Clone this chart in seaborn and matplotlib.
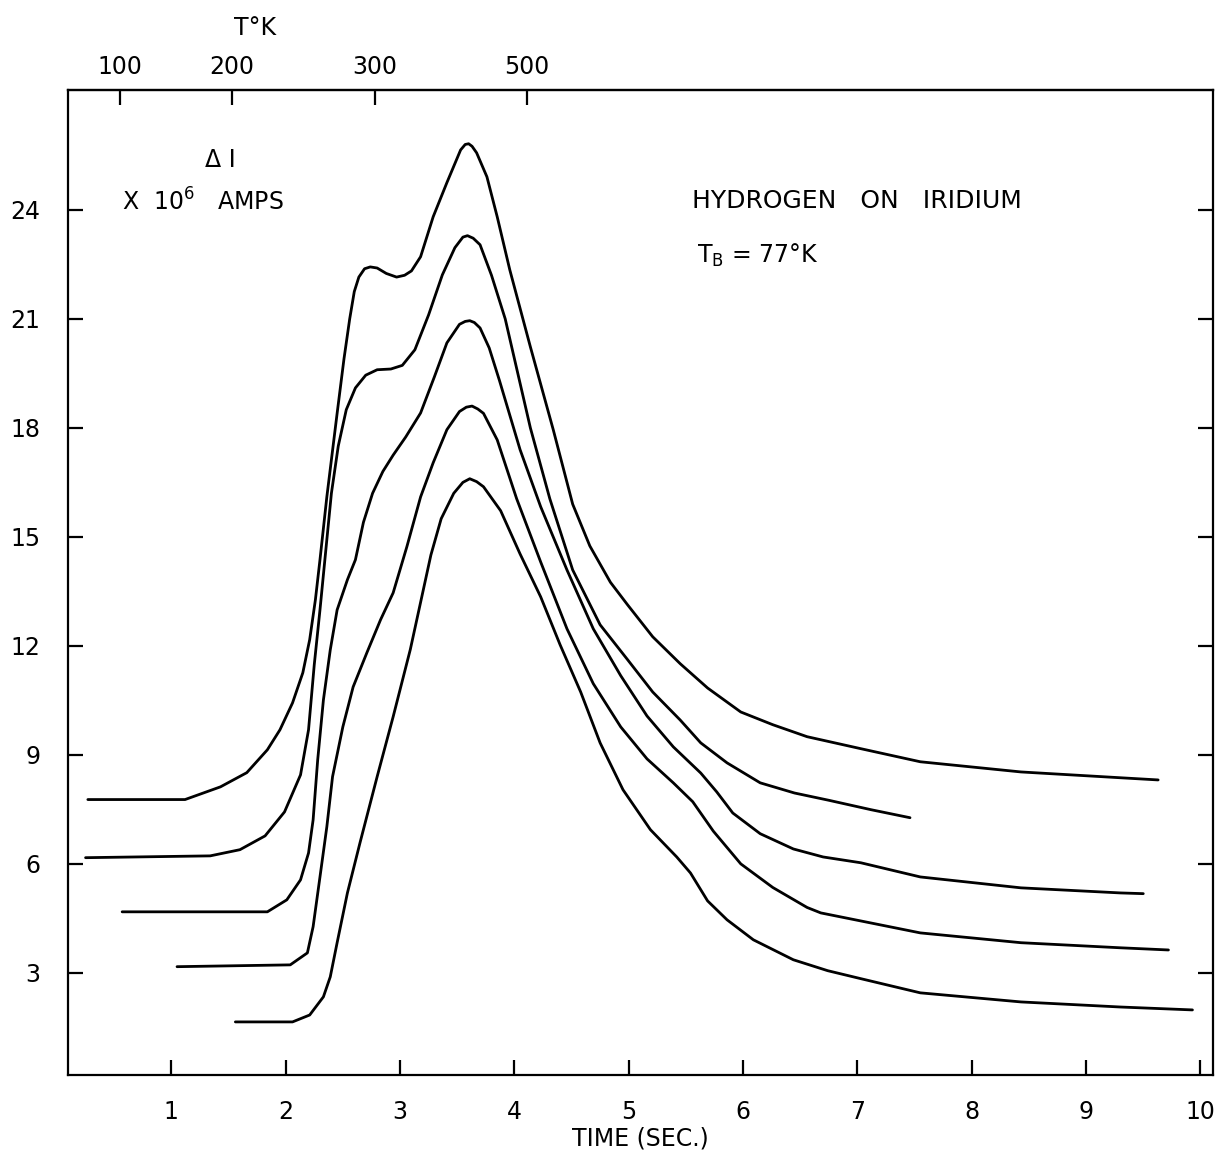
import matplotlib
matplotlib.use("Agg")
import matplotlib.pyplot as plt
import numpy as np
import pandas as pd
import seaborn as sns

# Thermal desorption traces: current change (x 10^6 A) against flash time (s)
time_1 = [0.27, 1.12, 1.43, 1.66, 1.84, 1.95, 2.06, 2.15, 2.21, 2.26, 2.30, 2.36, 2.45, 2.51,
          2.56, 2.60, 2.64, 2.69, 2.74, 2.80, 2.88, 2.97, 3.04, 3.10, 3.18, 3.29, 3.41, 3.53,
          3.57, 3.60, 3.63, 3.67, 3.76, 3.85, 3.96, 4.14, 4.34, 4.51, 4.66, 4.84, 4.99, 5.21,
          5.45, 5.69, 5.98, 6.26, 6.56, 7.03, 7.55, 8.43, 9.30, 9.63]
current_1 = [7.77, 7.77, 8.12, 8.51, 9.14, 9.69, 10.43, 11.26, 12.17, 13.27, 14.37, 16.10, 18.40,
             19.90, 21.00, 21.75, 22.15, 22.38, 22.43, 22.40, 22.25, 22.15, 22.20, 22.32, 22.71,
             23.81, 24.75, 25.65, 25.80, 25.82, 25.75, 25.57, 24.91, 23.81, 22.35, 20.23, 17.95,
             15.90, 14.75, 13.75, 13.13, 12.25, 11.51, 10.84, 10.18, 9.83, 9.50, 9.17, 8.81,
             8.53, 8.37, 8.31]

time_2 = [0.25, 1.34, 1.60, 1.82, 1.99, 2.13, 2.20, 2.25, 2.30, 2.35, 2.40, 2.46, 2.53, 2.61,
          2.70, 2.80, 2.92, 3.02, 3.13, 3.25, 3.37, 3.48, 3.55, 3.59, 3.64, 3.70, 3.80, 3.92,
          4.03, 4.14, 4.31, 4.51, 4.75, 4.99, 5.21, 5.45, 5.63, 5.86, 6.15, 6.45, 6.75, 7.12,
          7.46]
current_2 = [6.17, 6.22, 6.39, 6.77, 7.43, 8.45, 9.69, 11.48, 12.99, 14.60, 16.20, 17.50, 18.50,
             19.10, 19.45, 19.60, 19.62, 19.72, 20.15, 21.11, 22.21, 22.96, 23.25, 23.29, 23.22,
             23.04, 22.20, 21.00, 19.50, 18.00, 16.05, 14.09, 12.58, 11.62, 10.73, 9.96, 9.33,
             8.78, 8.23, 7.95, 7.75, 7.49, 7.27]

time_3 = [0.57, 1.84, 2.01, 2.13, 2.20, 2.24, 2.28, 2.33, 2.39, 2.45, 2.54, 2.61, 2.68, 2.76,
          2.85, 2.94, 3.05, 3.18, 3.30, 3.41, 3.52, 3.57, 3.61, 3.65, 3.70, 3.78, 3.87, 3.96,
          4.05, 4.23, 4.46, 4.69, 4.93, 5.16, 5.39, 5.63, 5.77, 5.91, 6.15, 6.44, 6.70, 7.03,
          7.55, 8.43, 9.30, 9.50]
current_3 = [4.68, 4.68, 5.01, 5.56, 6.30, 7.21, 8.86, 10.51, 11.89, 12.99, 13.82, 14.37, 15.40,
             16.20, 16.80, 17.25, 17.75, 18.41, 19.40, 20.34, 20.85, 20.93, 20.95, 20.90, 20.75,
             20.20, 19.30, 18.35, 17.40, 15.83, 14.09, 12.47, 11.18, 10.07, 9.22, 8.50, 7.98,
             7.40, 6.83, 6.41, 6.19, 6.03, 5.64, 5.34, 5.20, 5.18]

time_4 = [1.05, 2.04, 2.19, 2.24, 2.30, 2.36, 2.41, 2.50, 2.59, 2.71, 2.83, 2.94, 3.06, 3.18,
          3.29, 3.41, 3.52, 3.58, 3.63, 3.68, 3.73, 3.85, 4.02, 4.23, 4.46, 4.69, 4.93, 5.16,
          5.39, 5.56, 5.74, 5.98, 6.26, 6.56, 6.68, 7.55, 8.43, 9.30, 9.72]
current_4 = [3.17, 3.22, 3.55, 4.27, 5.64, 7.02, 8.40, 9.77, 10.87, 11.81, 12.72, 13.46, 14.73,
             16.10, 17.04, 17.95, 18.45, 18.57, 18.60, 18.52, 18.40, 17.67, 16.05, 14.31, 12.47,
             10.96, 9.77, 8.89, 8.23, 7.71, 6.90, 6.00, 5.35, 4.80, 4.65, 4.10, 3.83, 3.69, 3.63]

time_5 = [1.56, 2.06, 2.21, 2.33, 2.39, 2.45, 2.54, 2.65, 2.80, 2.94, 3.09, 3.18, 3.27, 3.36,
          3.47, 3.55, 3.61, 3.67, 3.73, 3.88, 4.05, 4.23, 4.40, 4.58, 4.75, 4.95, 5.19, 5.42,
          5.54, 5.69, 5.86, 6.09, 6.44, 6.74, 7.03, 7.55, 8.43, 9.30, 9.93]
current_5 = [1.65, 1.65, 1.84, 2.34, 2.89, 3.83, 5.20, 6.58, 8.40, 10.05, 11.90, 13.20, 14.50,
             15.50, 16.20, 16.50, 16.60, 16.52, 16.38, 15.72, 14.53, 13.35, 12.03, 10.73, 9.33,
             8.04, 6.94, 6.19, 5.75, 4.98, 4.46, 3.91, 3.36, 3.06, 2.84, 2.45, 2.20, 2.06, 1.98]

time_ticks = [1, 2, 3, 4, 5, 6, 7, 8, 9, 10]
current_ticks = [3, 6, 9, 12, 15, 18, 21, 24]
temp_tick_times = [0.55, 1.53, 2.78, 4.11]
temp_tick_labels = ["100", "200", "300", "500"]

frames = []
for k, (t, c) in enumerate([(time_1, current_1), (time_2, current_2), (time_3, current_3),
                            (time_4, current_4), (time_5, current_5)]):
    frames.append(pd.DataFrame({"time": t, "current": c, "run": k}))
data = pd.concat(frames, ignore_index=True)

sns.set_theme(style="ticks")
plt.rcParams["font.family"] = ["DejaVu Sans"]
plt.rcParams["text.color"] = "black"
plt.rcParams["axes.labelcolor"] = "black"

fig = plt.figure(figsize=(12.31, 11.64), dpi=100)
ax = fig.add_axes([0.0552, 0.0765, 0.9302, 0.8462])

for run, grp in data.groupby("run"):
    sns.lineplot(data=grp, x="time", y="current", ax=ax, sort=False, estimator=None,
                 color="black", linewidth=2.0, legend=False,
                 solid_joinstyle="round", solid_capstyle="round")

ax.set_xlim(0.096, 10.11)
ax.set_ylim(0.19, 27.3)
ax.set_xticks(time_ticks)
ax.set_xticklabels([str(v) for v in time_ticks], fontsize=17)
ax.set_yticks(current_ticks)
ax.set_yticklabels([str(v) for v in current_ticks], fontsize=17)
ax.set_xlabel("TIME (SEC.)", fontsize=17, labelpad=2)
ax.set_ylabel("")
ax.tick_params(axis="both", direction="in", length=11, width=1.6, colors="black",
               labelcolor="black")
ax.tick_params(axis="x", pad=18)
ax.tick_params(axis="y", pad=20, right=True, labelright=False)
for sp in ax.spines.values():
    sp.set_visible(True)
    sp.set_linewidth(1.6)
    sp.set_color("black")

top = ax.secondary_xaxis("top")
top.set_xticks(temp_tick_times)
top.set_xticklabels(temp_tick_labels, fontsize=17)
top.tick_params(direction="in", length=11, width=1.6, pad=8, colors="black")
for sp in top.spines.values():
    sp.set_linewidth(1.6)

fig.text(0.207, 0.976, "T°K", fontsize=17, ha="center", va="center")

ax.text(0.120, 0.929, "Δ I", transform=ax.transAxes, fontsize=17, ha="left", va="center")
ax.text(0.047, 0.886, r"X  10$^{6}$   AMPS", transform=ax.transAxes, fontsize=17,
        ha="left", va="center")
ax.text(0.545, 0.887, "HYDROGEN   ON   IRIDIUM", transform=ax.transAxes, fontsize=18,
        ha="left", va="center")
ax.text(0.549, 0.832, r"T$_\mathregular{B}$ = 77°K", transform=ax.transAxes, fontsize=17,
        ha="left", va="center")

fig.savefig("out.png", dpi=100, facecolor="white")
